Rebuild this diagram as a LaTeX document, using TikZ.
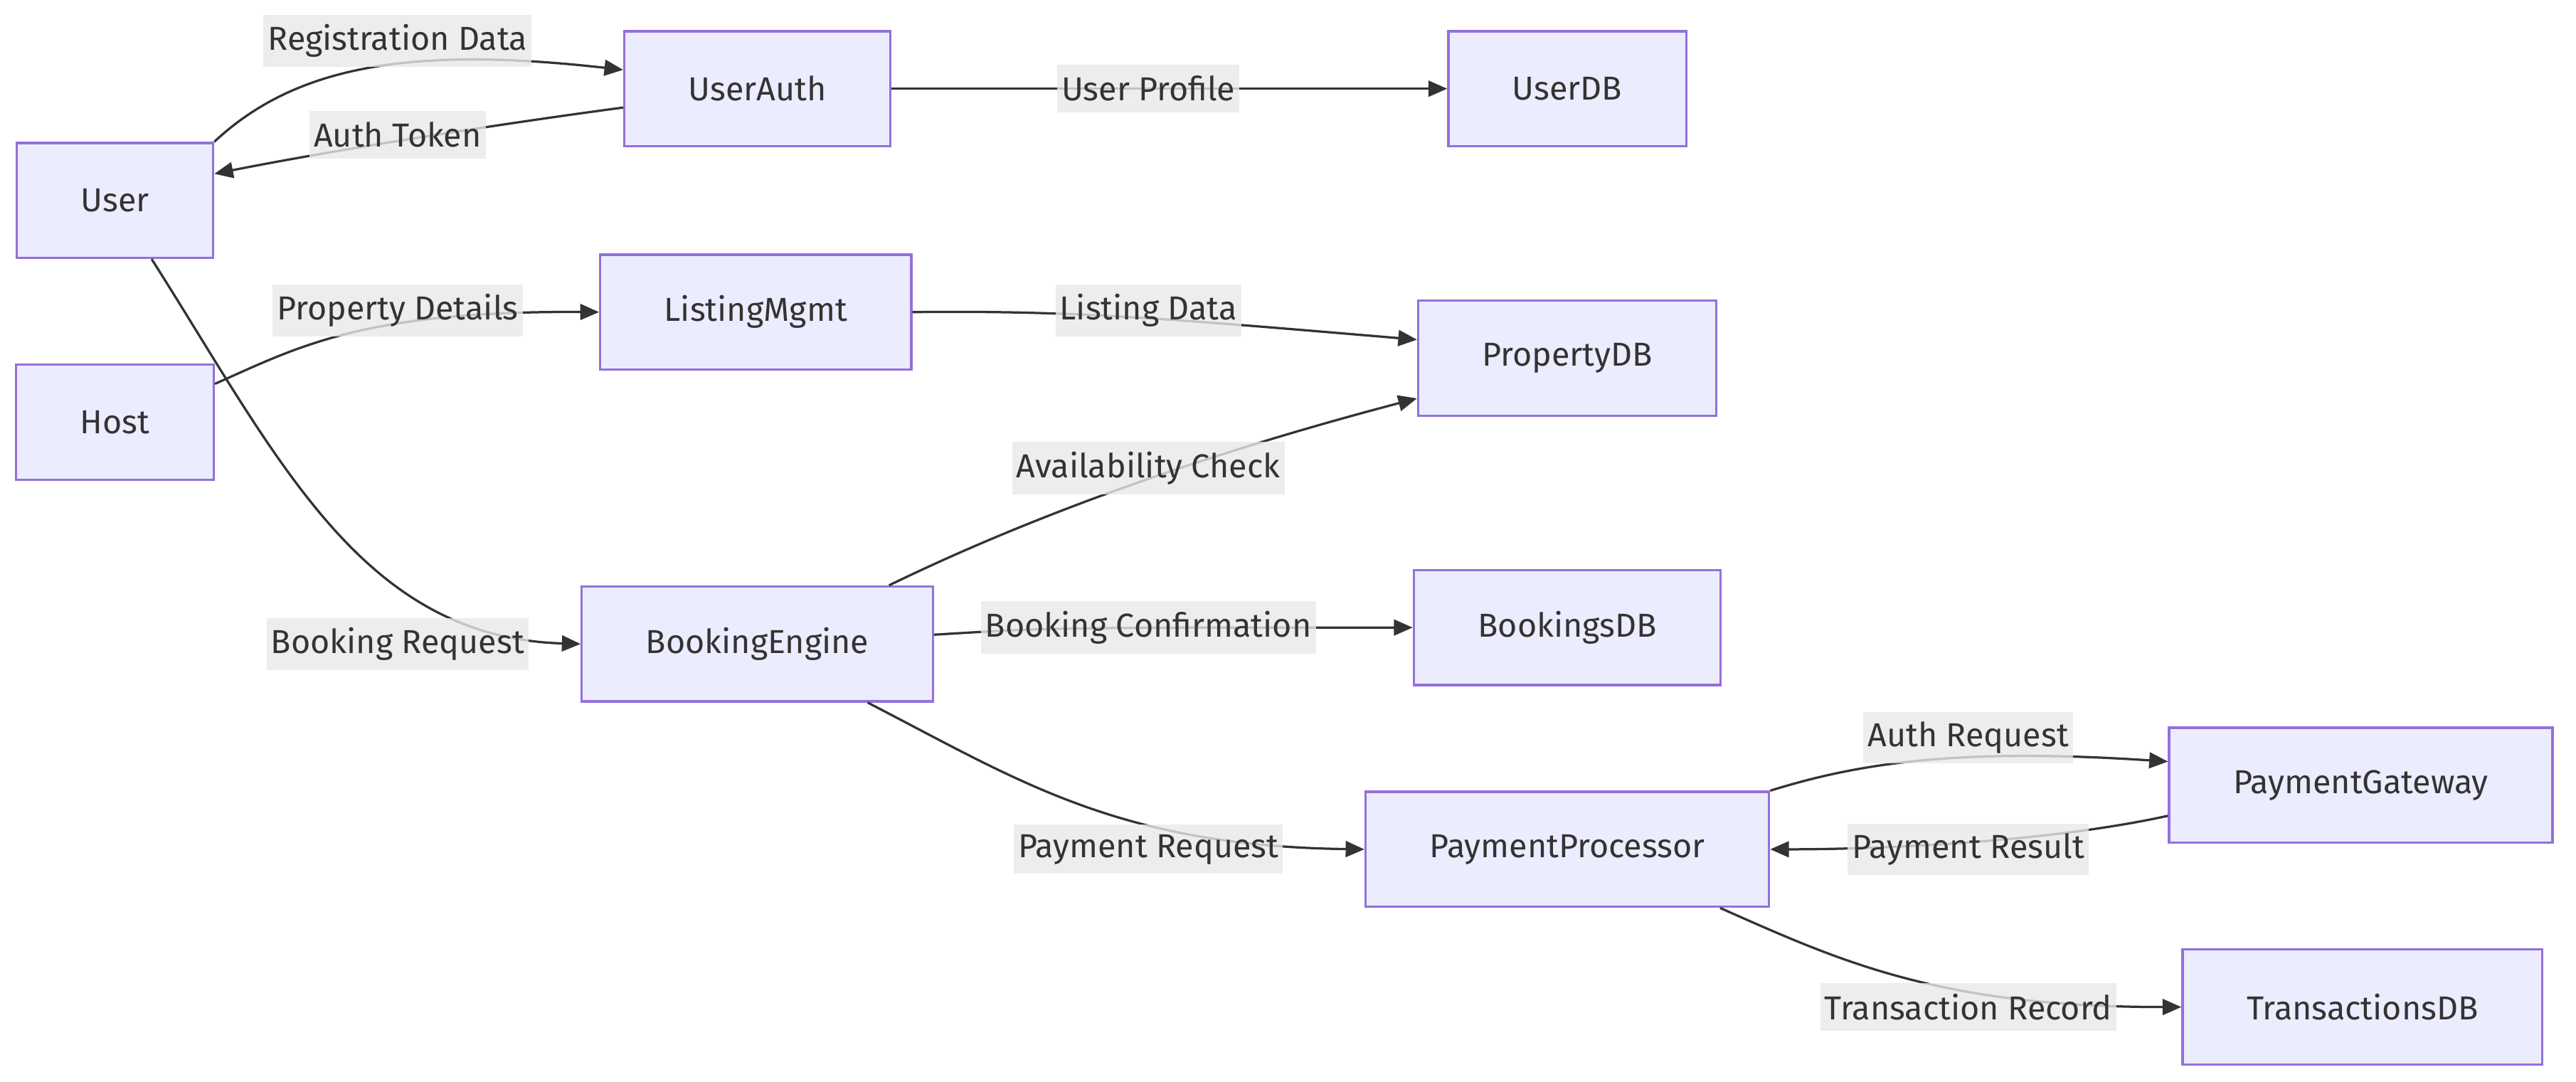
\documentclass[tikz,border=0pt]{standalone}
\usepackage{fontspec}
\setmainfont{Fira Sans}
\usetikzlibrary{arrows.meta}
\definecolor{boxfill}{HTML}{ECECFF}
\definecolor{boxline}{HTML}{9370DB}
\definecolor{lblfill}{HTML}{E8E8E8}
\definecolor{ink}{HTML}{333333}
\tikzset{>={Triangle[length=6.5pt,width=5.5pt]}, font=\fontsize{11.5}{14}\selectfont}
\tikzset{
  box/.style={rectangle,draw=boxline,fill=boxfill,text=ink,line width=0.8pt,minimum height=1.4cm,inner xsep=0.78cm},
  lbl/.style={rectangle,fill=lblfill,fill opacity=0.8,text opacity=1,text=ink,minimum height=0.58cm,inner xsep=1.5pt},
  flow/.style={->,draw=ink,line width=0.8pt}
}

\begin{document}
\begin{tikzpicture}[x=0.02cm,y=-0.02cm]
\useasboundingbox (0,0) rectangle (1568,658.6);
%\draw[help lines,step=100] (0,0) grid (1568,658);
\path (70,122) node(user) [box] {User}
(70,257) node(host) [box] {Host}
(461,54) node(userauth) [box] {UserAuth}
(460,190) node(listingmgmt) [box] {ListingMgmt}
(461,392) node(bookingengine) [box] {BookingEngine}
(954,54) node(userdb) [box] {UserDB}
(954,218) node(propertydb) [box] {PropertyDB}
(954,382) node(bookingsdb) [box] {BookingsDB}
(954,517) node(paymentproc) [box] {PaymentProcessor}
(1437,478) node(paymentgw) [box] {PaymentGateway}
(1438,613) node(transdb) [box] {TransactionsDB};

% user side
\draw[flow] (user.north east) .. controls (180,40) and (250,28) .. (userauth.172);
\draw[flow] (userauth.188) .. controls (300,76) and (200,92) .. (user.15);
\draw[flow] (userauth) -- (userdb);
\draw[flow] (host.21) .. controls (180,212) and (220,189) .. (listingmgmt.west);
\draw[flow] (listingmgmt.east) .. controls (650,189) and (700,193) .. (propertydb.173);
\draw[flow] (user.-58) .. controls (170,280) and (220,388) .. (bookingengine.west);

% booking side
\draw[flow] (bookingengine.24) .. controls (620,318) and (720,280) .. (propertydb.195);
\draw[flow] (bookingengine.3) .. controls (640,382) .. (bookingsdb.west);
\draw[flow] (bookingengine.-28) .. controls (620,475) and (680,515) .. (paymentproc.west);

% payment side
\draw[flow] (paymentproc.north east) .. controls (1130,465) and (1190,455) .. (paymentgw.173);
\draw[flow] (paymentgw.189) .. controls (1250,512) and (1150,517) .. (paymentproc.east);
\draw[flow] (paymentproc.-21) .. controls (1120,585) and (1180,613) .. (transdb.west);

\path (242,25) node(regdata) [lbl] {Registration Data}
(242,82) node(authtoken) [lbl] {Auth Token}
(699,54) node(profile) [lbl] {User Profile}
(242,189) node(propdetails) [lbl] {Property Details}
(699,189) node(listingdata) [lbl] {Listing Data}
(242,392) node(bookreq) [lbl] {Booking Request}
(699,285) node(avail) [lbl] {Availability Check}
(699,382) node(bookconf) [lbl] {Booking Confirmation}
(699,517) node(payreq) [lbl] {Payment Request}
(1198,449) node(authreq) [lbl] {Auth Request}
(1198,517) node(payres) [lbl] {Payment Result}
(1198,613) node(transrec) [lbl] {Transaction Record};
\end{tikzpicture}
\end{document}
